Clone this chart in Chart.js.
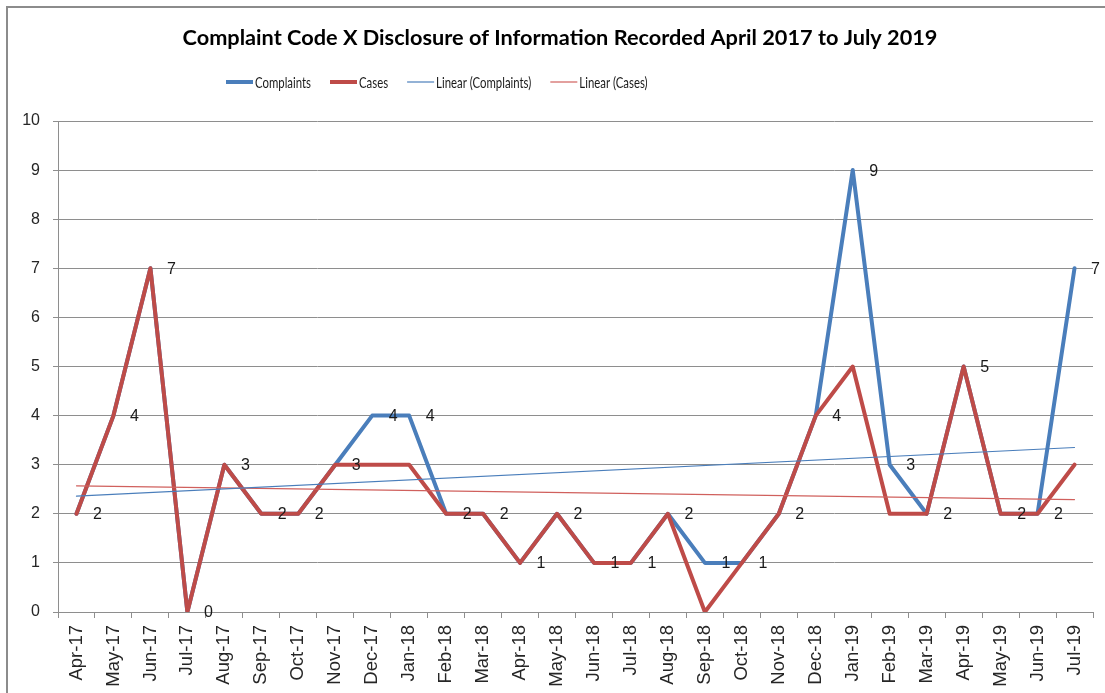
<!DOCTYPE html>
<html>
<head>
<meta charset="utf-8">
<script src="https://cdn.jsdelivr.net/npm/chart.js@4.4.1/dist/chart.umd.min.js"></script>
<style>
  html, body { margin: 0; padding: 0; background: #fff; }
  #wrap { position: relative; width: 1105px; height: 693px; overflow: hidden; }
  #frame { position: absolute; left: 6px; top: 6px; width: 1200px; height: 800px;
           border-left: 2px solid #8c8c8c; border-top: 2px solid #8c8c8c; pointer-events: none; }
  canvas { display: block; }
</style>
</head>
<body>
<div id="wrap">
  <canvas id="c" width="1105" height="693"></canvas>
  <div id="frame"></div>
</div>
<script>
// Monthly categories, April 2017 – July 2019
const months = [
  'Apr-17', 'May-17', 'Jun-17', 'Jul-17', 'Aug-17', 'Sep-17', 'Oct-17', 'Nov-17', 'Dec-17',
  'Jan-18', 'Feb-18', 'Mar-18', 'Apr-18', 'May-18', 'Jun-18', 'Jul-18', 'Aug-18', 'Sep-18',
  'Oct-18', 'Nov-18', 'Dec-18', 'Jan-19', 'Feb-19', 'Mar-19', 'Apr-19', 'May-19', 'Jun-19', 'Jul-19'
];

// Recorded counts per month
const complaints = [2, 4, 7, 0, 3, 2, 2, 3, 4, 4, 2, 2, 1, 2, 1, 1, 2, 1, 1, 2, 4, 9, 3, 2, 5, 2, 2, 7];
const cases      = [2, 4, 7, 0, 3, 2, 2, 3, 3, 3, 2, 2, 1, 2, 1, 1, 2, 0, 1, 2, 4, 5, 2, 2, 5, 2, 2, 3];

// Linear trend values at the first and last month
const complaintsTrendEnds = [2.36, 3.35];
const casesTrendEnds      = [2.57, 2.29];

const chartTitle = 'Complaint Code X Disclosure of Information Recorded April 2017 to July 2019';

const HEAD = 'Lato, "Liberation Sans", sans-serif';
const SANS = '"Liberation Sans", Arial, sans-serif';
const GRID = '#8e8e8e';
const BLUE = '#4A7EBB';
const RED = '#BE4B48';

// Trend series: values only at the two ends, joined by the line
function endpointSeries(ends) {
  return months.map((m, i) => i === 0 ? ends[0] : (i === months.length - 1 ? ends[1] : null));
}

// Value labels to the right of each Complaints point
const valueLabels = {
  id: 'valueLabels',
  afterDatasetsDraw(chart) {
    const meta = chart.getDatasetMeta(0);
    const ctx = chart.ctx;
    ctx.save();
    ctx.font = '16px ' + SANS;
    ctx.fillStyle = '#1a1a1a';
    ctx.textAlign = 'center';
    ctx.textBaseline = 'middle';
    meta.data.forEach((pt, i) => {
      ctx.fillText(String(complaints[i]), pt.x + 21, pt.y + 1);
    });
    ctx.restore();
  }
};

// Title and a single-row legend above the plot
const header = {
  id: 'header',
  afterDraw(chart) {
    const ctx = chart.ctx;
    ctx.save();
    ctx.fillStyle = '#000';
    ctx.textAlign = 'center';
    ctx.textBaseline = 'middle';
    // size the title so it spans 755px
    ctx.font = 'bold 20px ' + HEAD;
    const size = 20 * 755 / ctx.measureText(chartTitle).width;
    ctx.font = 'bold ' + size.toFixed(2) + 'px ' + HEAD;
    ctx.fillText(chartTitle, 560, 38);

    // legend text is set slightly condensed
    ctx.font = '15px ' + HEAD;
    ctx.textAlign = 'left';
    const squeeze = 56 / ctx.measureText('Complaints').width;
    let x = 226;
    const y = 82;
    chart.data.datasets.forEach(ds => {
      ctx.beginPath();
      ctx.strokeStyle = ds.borderColor;
      ctx.lineWidth = ds.borderWidth;
      ctx.moveTo(x, y);
      ctx.lineTo(x + 27, y);
      ctx.stroke();
      x += 29;
      ctx.save();
      ctx.translate(x, y + 1);
      ctx.scale(squeeze, 1);
      ctx.fillStyle = '#1a1a1a';
      ctx.fillText(ds.label, 0, 0);
      ctx.restore();
      x += ctx.measureText(ds.label).width * squeeze + 19;
    });
    ctx.restore();
  }
};

new Chart(document.getElementById('c'), {
  type: 'line',
  data: {
    labels: months,
    datasets: [
      { label: 'Complaints', data: complaints, borderColor: BLUE, borderWidth: 4, order: 2 },
      { label: 'Cases', data: cases, borderColor: RED, borderWidth: 4, order: 1 },
      { label: 'Linear (Complaints)', data: endpointSeries(complaintsTrendEnds), borderColor: BLUE,
        borderWidth: 1.2, spanGaps: true, order: 0 },
      { label: 'Linear (Cases)', data: endpointSeries(casesTrendEnds), borderColor: '#D0605D',
        borderWidth: 1.2, spanGaps: true, order: 0 }
    ]
  },
  options: {
    responsive: false,
    animation: false,
    devicePixelRatio: 1,
    layout: { padding: { top: 121, right: 12, left: 0, bottom: 0 } },
    elements: {
      point: { radius: 0, hoverRadius: 0 },
      line: { tension: 0, borderJoinStyle: 'round', borderCapStyle: 'round', fill: false }
    },
    plugins: {
      legend: { display: false },
      title: { display: false },
      tooltip: { enabled: false }
    },
    scales: {
      x: {
        type: 'category',
        offset: true,
        afterFit(scale) { scale.height = 81; },
        grid: { offset: true, drawOnChartArea: false, tickLength: 6, color: GRID },
        border: { color: GRID, width: 1 },
        ticks: {
          autoSkip: false, minRotation: 90, maxRotation: 90, padding: 7,
          color: '#262626', font: { family: SANS, size: 18.5 }
        }
      },
      y: {
        min: 0, max: 10,
        afterFit(scale) { scale.width = 58; },
        grid: { color: GRID, tickLength: 5 },
        border: { color: GRID, width: 1 },
        ticks: { stepSize: 1, padding: 13, color: '#262626', font: { family: SANS, size: 16 } }
      }
    }
  },
  plugins: [valueLabels, header]
});
</script>
</body>
</html>
